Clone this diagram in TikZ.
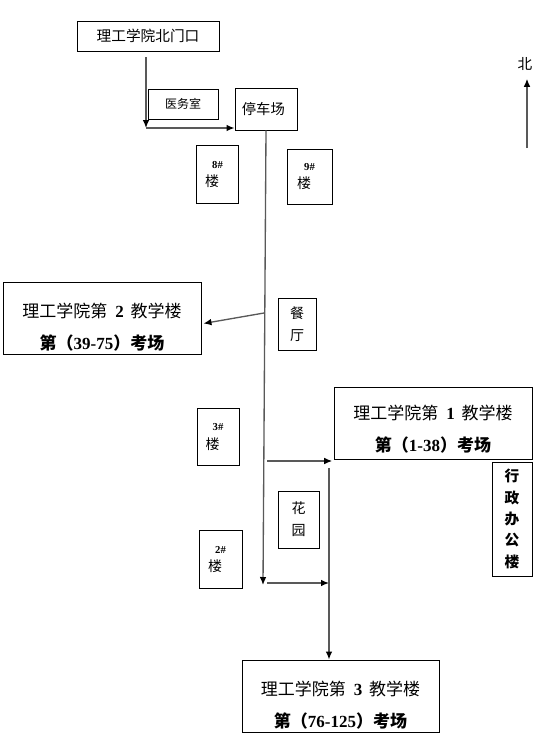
\documentclass[tikz,border=0pt]{standalone}
\usepackage{fontspec}
\setmainfont{Liberation Serif}
\newfontfamily\cjk{Noto Sans CJK SC}
\newfontfamily\numf{Liberation Serif}
\usetikzlibrary{arrows.meta}

\begin{document}
\begin{tikzpicture}[x=0.75pt, y=-0.75pt,
            block/.style={draw, rectangle, line width=0.7pt, inner sep=0pt, align=center,
                          font=\cjk\fontsize{11}{13}\selectfont},
            bldg/.style={block, minimum width=148.5pt, minimum height=54pt,
                         font=\cjk\fontsize{12.75}{24}\selectfont},
            lou/.style={block, minimum width=31.5pt, minimum height=43pt,
                        font=\cjk\fontsize{10.5}{14}\selectfont},
            link/.style={draw=black!65, line width=1pt, -{Latex[length=6pt, width=5pt, color=black]}}
        ]
            \useasboundingbox (0,0) rectangle (550,743);

            % gate and parking
            \node[block, minimum width=106.5pt, minimum height=22.5pt] (gate) at (148,36) {理工学院北门口};
            \node[block, minimum width=52.5pt, minimum height=22.5pt, font=\cjk\fontsize{9}{11}\selectfont] (clinic) at (183,104) {医务室};
            \node[block, minimum width=46.5pt, minimum height=31.5pt, font=\cjk\fontsize{10.75}{13}\selectfont] (park) at (266,109) {\hspace*{-4pt}停车场};

            % dormitories
            \node[lou] (b8) at (217.5,174.5) {{\numf\bfseries\fontsize{8}{10}\selectfont 8\#}\\\hspace*{-8pt}楼};
            \node[lou, minimum width=33.75pt, minimum height=41.25pt] (b9) at (309.5,176.5) {{\numf\bfseries\fontsize{8}{10}\selectfont 9\#}\\\hspace*{-8pt}楼};
            \node[lou] (b3) at (218,437) {{\numf\bfseries\fontsize{8}{10}\selectfont 3\#}\\\hspace*{-8pt}楼};
            \node[lou, minimum width=32.25pt] (b2) at (220.5,559.5) {{\numf\bfseries\fontsize{8}{10}\selectfont 2\#}\\\hspace*{-8pt}楼};

            % canteen, garden, office
            \node[block, minimum width=28.5pt, minimum height=39pt, font=\cjk\fontsize{10.5}{16.5}\selectfont] (canteen) at (297,324) {餐\\厅};
            \node[block, minimum width=30.75pt, minimum height=42.75pt, font=\cjk\fontsize{10.5}{16.5}\selectfont] (garden) at (298.5,519.5) {花\\园};
            \node[block, minimum width=30pt, minimum height=85.5pt, font=\cjk\bfseries\fontsize{11}{16}\selectfont] (office) at (512,519) {行\\政\\办\\公\\楼};

            % teaching buildings
            \node[bldg] (t2) at (102,318.5) {\rule{0pt}{24.5pt}理工学院第\hspace{6pt}{\numf\bfseries 2}\hspace{5pt}教学楼\\{\bfseries 第（{\numf 39-75}）考场}};
            \node[bldg] (t1) at (433,423) {\rule{0pt}{19.5pt}理工学院第\hspace{6pt}{\numf\bfseries 1}\hspace{5pt}教学楼\\{\bfseries 第（{\numf 1-38}）考场}};
            \node[bldg, minimum width=147.75pt] (t3) at (340.5,696) {\rule{0pt}{24pt}理工学院第\hspace{6pt}{\numf\bfseries 3}\hspace{5pt}教学楼\\{\bfseries 第（{\numf 76-125}）考场}};

            % north sign
            \node[inner sep=0pt, font=\cjk\fontsize{11}{13}\selectfont] (north) at (525,64) {北};

            % route
            \coordinate (g1) at (146,57);
            \coordinate (g2) at (146,128);
            \coordinate (m1) at (263,585);
            \coordinate (c2) at (264,313);
            \coordinate (c1) at (267,461);
            \coordinate (c3) at (267,583);
            \coordinate (v2) at (329,468);
            \coordinate (n0) at (527,148);
            \draw[link] (g1) -- (g2);
            \draw[link] (g2) -- (g2 -| park.west);
            \draw[link] (park.south) -- (m1);
            \draw[link] (c2) -- ([shift={(2,5)}]t2.east);
            \draw[link] (c1) -- ([xshift=-1pt]c1 -| t1.west);
            \draw[link] (c3) -- (c3 -| v2);
            \draw[link] (v2) -- (v2 |- t3.north);
            \draw[link, shorten >=6pt] (n0) -- (n0 |- north.south);

        \end{tikzpicture}
\end{document}
